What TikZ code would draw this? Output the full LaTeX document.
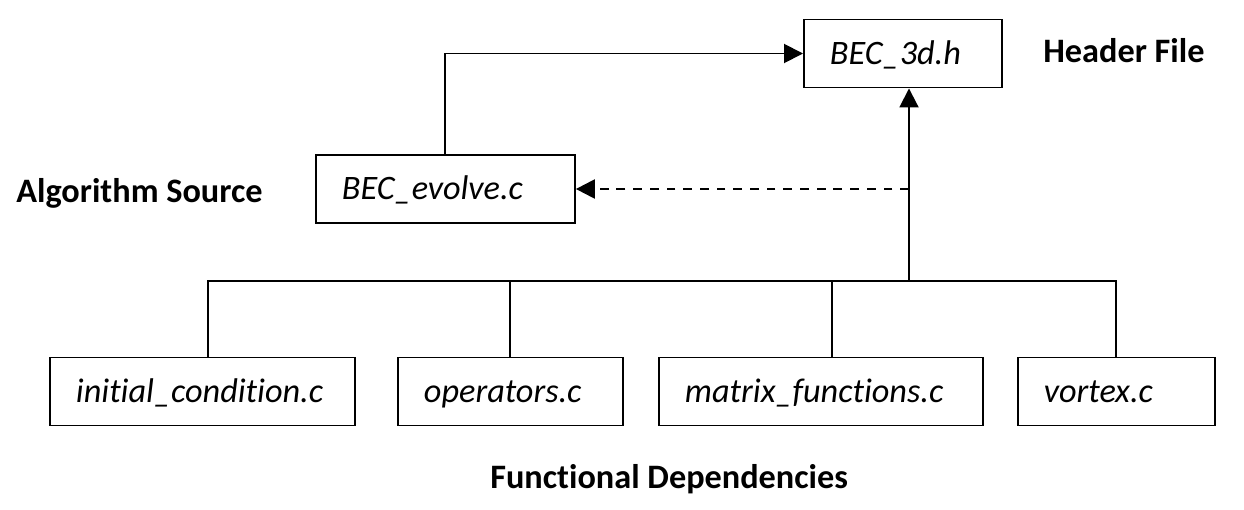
\documentclass[tikz,border=0pt]{standalone}
\usepackage{fontspec}
\setmainfont{Carlito}[RawFeature={-liga}]
\usepackage{tikz}
\usetikzlibrary{arrows.meta, positioning, calc}
\hyphenpenalty=10000

\begin{document}
\begin{tikzpicture}[
    x=0.02cm, y=-0.02cm,
    filebox/.style={rectangle, draw, line width=1.1pt, anchor=west, minimum height=1.36cm, inner xsep=0.52cm, inner ysep=0pt, align=flush left, text height=12.5pt, text depth=0pt, font=\fontsize{19.5pt}{23pt}\selectfont\itshape},
    tag/.style={anchor=base west, inner sep=0pt, font=\fontsize{19.5pt}{23pt}\selectfont\bfseries},
    arrow/.style={-{Triangle[length=0.38cm, width=0.38cm]}, line width=1.1pt},
    dasharrow/.style={arrow, line width=1.3pt, dash pattern=on 5pt off 4.5pt},
    wire/.style={line width=1.1pt}
  ]
    \useasboundingbox (0,0) rectangle (1244,510);

    % Header file
    \node[filebox, text width=2.92cm] (header) at (803,53.5) {BEC\_3d.h};
    \node[tag] (headerlbl) at (1043,63) {Header File};

    % Algorithm source
    \node[filebox, text width=4.14cm] (evolve) at (315,189) {BEC\_evolve.c};
    \node[tag] (algolbl) at (16,202) {Algorithm Source};

    % Functional dependencies
    \node[filebox, text width=5.06cm] (initc) at (49,391.5) {initial\_condition.c};
    \node[filebox, text width=3.46cm] (oper) at (397,391.5) {operators.c};
    \node[filebox, text width=5.44cm] (matfn) at (658,391.5) {matrix\_functions.c};
    \node[filebox, text width=2.9cm] (vortex) at (1017,391.5) {vortex.c};
    \node[tag] (funclbl) at (490,488) {Functional Dependencies};

    % bus joining the dependencies
    \coordinate (bus) at (909,281);

    % Arrow from algorithm source to header
    \draw[arrow] (evolve.north) |- (header.west);

    % Tree from dependencies up to the bus
    \draw[wire] ([xshift=0.11cm]initc.north) |- (vortex.north |- bus) -- (vortex.north);
    \draw[wire] (oper.north) -- (oper.north |- bus);
    \draw[wire] ([xshift=0.22cm]matfn.north) -- ([xshift=0.22cm]matfn.north |- bus);

    % Arrow from bus to header
    \draw[arrow] (bus) -- (bus |- header.south);

    % Dashed arrow to algorithm source
    \draw[dasharrow] (bus |- evolve.east) -- (evolve.east);
  \end{tikzpicture}
\end{document}
